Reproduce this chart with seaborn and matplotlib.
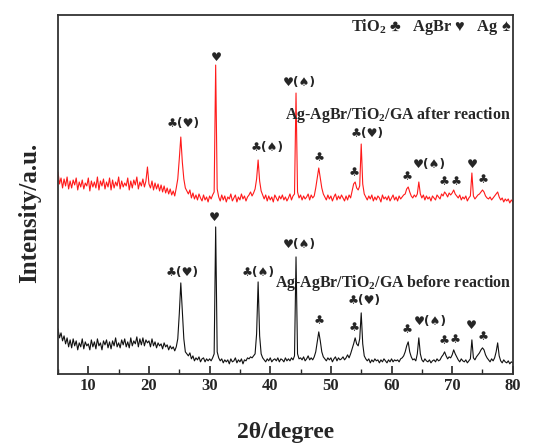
import matplotlib
matplotlib.use("Agg")
import matplotlib.pyplot as plt
from matplotlib.ticker import MultipleLocator
import seaborn as sns
import pandas as pd
import numpy as np

# scan: 5 - 80 deg, step 0.25 deg
scan_start, scan_end, scan_step = 5.0, 80.0, 0.25

# intensity (a.u.), one row of 4 points per degree
after_reaction = [
    202, 190, 196, 186,  195, 188, 197, 185,  193, 186, 194, 189,  196, 184, 192, 187,   # 5-8
    194, 185, 191, 188,  196, 183, 193, 187,  192, 186, 197, 184,  193, 188, 195, 185,   # 9-12
    192, 187, 196, 184,  194, 186, 192, 188,  197, 185, 193, 187,  191, 188, 196, 184,   # 13-16
    193, 186, 194, 189,  197, 185, 192, 188,  195, 187, 193, 207,  190, 186, 193, 184,   # 17-20
    191, 185, 190, 183,  189, 182, 188, 181,  186, 180, 185, 179,  183, 178, 186, 195,   # 21-24
    215, 237, 212, 195,  186, 183, 180, 184,  176, 181, 175, 179,  174, 180, 176, 173,   # 25-28
    179, 174, 177, 172,  178, 175, 179, 182,  309, 185, 177, 173,  179, 174, 178, 172,   # 29-32
    177, 175, 180, 173,  176, 179, 172, 177,  174, 180, 175, 178,  173, 177, 179, 182,   # 33-36
    178, 181, 185, 195,  214, 193, 183, 179,  175, 179, 173, 178,  174, 177, 172, 179,   # 37-40
    176, 173, 178, 175,  179, 174, 177, 173,  176, 180, 174, 178,  180, 281, 182, 176,   # 41-44
    179, 174, 178, 175,  177, 180, 174, 179,  176, 178, 186, 196,  206, 196, 186, 180,   # 45-48
    177, 174, 179, 175,  178, 173, 177, 180,  174, 178, 175, 179,  176, 173, 178, 174,   # 49-52
    179, 176, 183, 190,  192, 186, 184, 188,  230, 190, 180, 177,  174, 178, 175, 179,   # 53-56
    173, 177, 174, 178,  176, 172, 179, 175,  177, 174, 178, 173,  176, 179, 174, 177,   # 57-60
    173, 178, 175, 177,  179, 180, 185, 187,  182, 178, 176, 179,  177, 180, 192, 180,   # 61-64
    176, 179, 174, 178,  175, 177, 173, 178,  176, 174, 179, 177,  175, 180, 178, 182,   # 65-68
    180, 177, 181, 179,  181, 184, 180, 178,  176, 179, 174, 177,  175, 178, 173, 176,   # 69-72
    178, 201, 178, 175,  177, 179, 180, 182,  184, 182, 178, 176,  175, 177, 174, 176,   # 73-76
    178, 180, 182, 177,  174, 176, 172, 175,  173, 175, 171, 174,  172,                  # 77-80
]
before_reaction = [
    45, 36, 41, 33,  38, 30, 36, 27,  34, 26, 35, 28,  33, 24, 31, 27,   # 5-8
    35, 25, 32, 28,  30, 24, 34, 27,  32, 25, 35, 28,  31, 24, 33, 29,   # 9-12
    34, 26, 32, 25,  33, 28, 36, 27,  31, 26, 34, 29,  35, 27, 32, 26,   # 13-16
    36, 28, 33, 30,  37, 27, 35, 29,  36, 28, 34, 31,  33, 27, 35, 28,   # 17-20
    32, 26, 31, 28,  30, 25, 31, 27,  29, 24, 28, 25,  27, 23, 27, 35,   # 21-24
    60, 91, 62, 35,  22, 20, 18, 21,  15, 18, 13, 16,  14, 17, 12, 15,   # 25-28
    16, 12, 15, 13,  15, 13, 16, 20,  147, 22, 16, 13,  15, 11, 14, 12,  # 29-32
    14, 10, 15, 12,  13, 16, 11, 14,  12, 15, 10, 14,  13, 16, 15, 17,   # 33-36
    16, 18, 20, 40,  92, 38, 20, 16,  14, 12, 15, 13,  16, 12, 14, 15,   # 37-40
    13, 16, 12, 15,  14, 12, 16, 13,  15, 13, 16, 14,  18, 117, 20, 15,  # 41-44
    16, 14, 17, 13,  15, 18, 14, 16,  14, 17, 22, 32,  42, 33, 22, 17,   # 45-48
    15, 13, 16, 14,  16, 12, 15, 17,  13, 16, 14, 15,  17, 14, 16, 19,   # 49-52
    16, 20, 25, 30,  36, 30, 28, 35,  61, 30, 18, 15,  13, 15, 11, 14,   # 53-56
    12, 15, 13, 14,  11, 14, 12, 15,  13, 11, 14, 12,  15, 12, 14, 13,   # 57-60
    14, 12, 15, 16,  18, 22, 28, 32,  22, 17, 14, 15,  13, 20, 36, 20,   # 61-64
    14, 12, 15, 13,  12, 14, 11, 13,  14, 12, 15, 13,  14, 17, 19, 22,   # 65-68
    18, 15, 17, 16,  19, 24, 20, 17,  14, 12, 15, 13,  12, 14, 11, 13,   # 69-72
    15, 34, 16, 14,  17, 19, 21, 24,  26, 24, 19, 16,  14, 12, 15, 13,   # 73-76
    16, 22, 31, 18,  13, 11, 14, 12,  11, 13, 10, 12,  11,               # 77-80
]

# peak markers: (2theta, intensity, label)
club, heart, spade = "\u2663", "\u2665", "\u2660"
after_marks = [
    (25.6, 251, club + "(" + heart + ")"),
    (31.1, 317, heart),
    (39.4, 227, club + "(" + spade + ")"),
    (44.8, 292, heart + "(" + spade + ")"),
    (48.1, 216, club),
    (53.8, 201, club),
    (56.0, 241, club + "(" + heart + ")"),
    (62.5, 197, club),
    (66.2, 209, heart + "(" + spade + ")"),
    (68.7, 192, club),
    (70.6, 192, club),
    (73.3, 209, heart),
    (75.1, 194, club),
]
before_marks = [
    (25.5, 101, club + "(" + heart + ")"),
    (30.8, 156, heart),
    (38.0, 101, club + "(" + spade + ")"),
    (44.8, 129, heart + "(" + spade + ")"),
    (48.1, 53, club),
    (53.8, 46, club),
    (55.4, 73, club + "(" + heart + ")"),
    (62.5, 44, club),
    (66.4, 52, heart + "(" + spade + ")"),
    (68.6, 33, club),
    (70.5, 34, club),
    (73.2, 48, heart),
    (75.1, 37, club),
]

two_theta = np.arange(scan_start, scan_end + scan_step / 2, scan_step)
df = pd.DataFrame({
    "two_theta": np.concatenate([two_theta, two_theta]),
    "intensity": after_reaction + before_reaction,
    "sample": ["after"] * len(two_theta) + ["before"] * len(two_theta),
})

sns.set_style("ticks")
plt.rcParams["font.family"] = ["Liberation Serif", "DejaVu Sans"]
plt.rcParams["font.weight"] = "bold"
plt.rcParams["mathtext.fontset"] = "custom"
plt.rcParams["mathtext.rm"] = "Liberation Serif:bold"

fig = plt.figure(figsize=(5.55, 4.44), dpi=100)
ax = fig.add_axes([0.1045, 0.158, 0.8195, 0.808])

sns.lineplot(data=df, x="two_theta", y="intensity", hue="sample",
             palette={"after": "#ff1a1a", "before": "#111111"},
             linewidth=0.8, legend=False, ax=ax, estimator=None)

ax.set_xlim(5, 80)
ax.set_ylim(0, 359)
ax.xaxis.set_major_locator(MultipleLocator(10))
ax.xaxis.set_minor_locator(MultipleLocator(5))
ax.set_xticks([10, 20, 30, 40, 50, 60, 70, 80])
ax.set_yticks([])
ax.tick_params(axis="x", which="major", direction="in", length=6, width=1.2,
               labelsize=12, pad=3)
ax.tick_params(axis="x", which="minor", direction="in", length=3.5, width=1.0)
for lab in ax.get_xticklabels():
    lab.set_fontweight("bold")
for sp in ax.spines.values():
    sp.set_linewidth(1.3)
    sp.set_color("#333333")

ax.set_xlabel("2\u03b8/degree", fontsize=17, fontweight="bold", labelpad=20)
ax.set_ylabel("Intensity/a.u.", fontsize=18, fontweight="bold", labelpad=12)
ax.yaxis.label.set_y(0.45)

# symbols drawn from DejaVu Sans so the spade comes out solid
mark_kw = dict(ha="center", va="center", fontsize=8.8, fontweight="bold",
               family=["DejaVu Sans", "Liberation Serif"])
for x, y, s in after_marks + before_marks:
    ax.text(x, y, s, **mark_kw)

ax.text(79.7, 259, "Ag-AgBr/TiO$_2$/GA after reaction", ha="right", va="center",
        fontsize=11.4, fontweight="bold")
ax.text(79.7, 91, "Ag-AgBr/TiO$_2$/GA before reaction", ha="right", va="center",
        fontsize=11.4, fontweight="bold")
ax.text(79.7, 347, "TiO$_2$ " + club + "   AgBr " + heart + "   Ag " + spade,
        ha="right", va="center", fontsize=11.8, fontweight="bold",
        family=["Liberation Serif", "DejaVu Sans"])

fig.savefig("out.png", dpi=100)
